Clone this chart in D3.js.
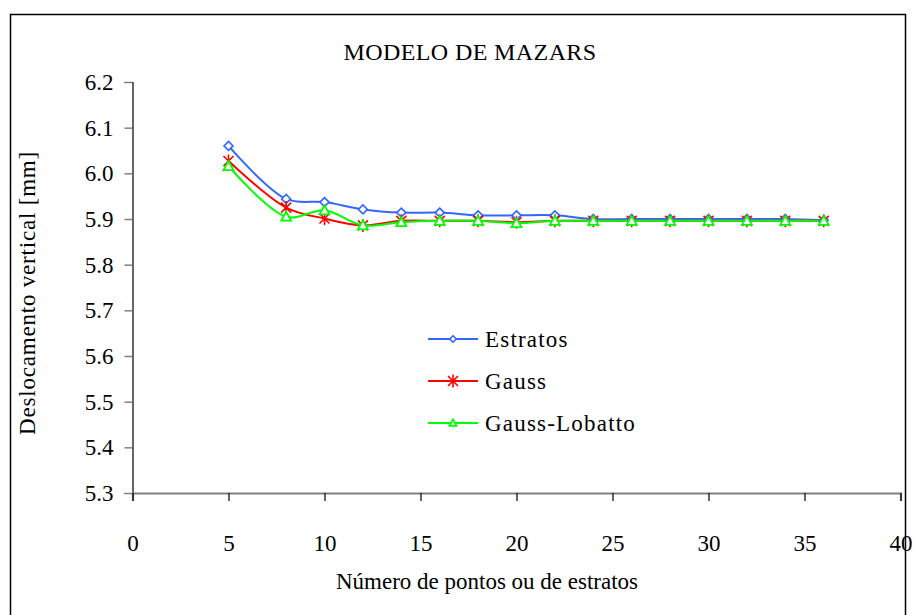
<!DOCTYPE html>
<html>
<head>
<meta charset="utf-8">
<script src="https://cdn.jsdelivr.net/npm/d3@7"></script>
<style>
  html, body { margin: 0; padding: 0; background: #fff; }
  svg { display: block; }
  svg text { font-family: "Liberation Serif", "Times New Roman", serif; }
</style>
</head>
<body>
<svg id="chart" width="915" height="615"></svg>
<script>
// Number of integration points / layers
const pontos = [5, 8, 10, 12, 14, 16, 18, 20, 22, 24, 26, 28, 30, 32, 34, 36];

// Vertical displacement [mm] for each integration scheme
const estratos = [6.060, 5.944, 5.937, 5.921, 5.914, 5.914, 5.908, 5.908, 5.908, 5.900, 5.900, 5.900, 5.900, 5.900, 5.900, 5.897];
const gauss    = [6.027, 5.925, 5.901, 5.886, 5.896, 5.896, 5.896, 5.893, 5.896, 5.896, 5.896, 5.896, 5.896, 5.896, 5.896, 5.896];
const lobatto  = [6.016, 5.905, 5.919, 5.886, 5.893, 5.896, 5.896, 5.891, 5.896, 5.896, 5.896, 5.896, 5.896, 5.896, 5.896, 5.896];

const xTicks = [0, 5, 10, 15, 20, 25, 30, 35, 40];
const yTicks = [5.3, 5.4, 5.5, 5.6, 5.7, 5.8, 5.9, 6.0, 6.1, 6.2];

const seriesNames = ["Estratos", "Gauss", "Gauss-Lobatto"];

const svg = d3.select("#chart");

const x = d3.scaleLinear().domain([0, 40]).range([132.5, 900.5]);
const y = d3.scaleLinear().domain([5.3, 6.2]).range([493, 82]);

// outer frame (bottom edge runs below the visible area)
svg.append("rect")
  .attr("x", 10.5).attr("y", 14.5)
  .attr("width", 895).attr("height", 620)
  .attr("fill", "#fff").attr("stroke", "#000").attr("stroke-width", 1.5);

// title
svg.append("text")
  .attr("x", 470).attr("y", 60)
  .attr("text-anchor", "middle")
  .attr("font-size", 24).attr("letter-spacing", 0.4)
  .attr("fill", "#000")
  .text("MODELO DE MAZARS");

// y axis
const yAxis = d3.axisLeft(y).tickValues(yTicks).tickFormat(d3.format(".1f")).tickSize(8).tickPadding(11);
const gy = svg.append("g").attr("transform", `translate(${x(0)},0)`).call(yAxis);
gy.attr("font-family", null);
gy.select(".domain").attr("stroke", "#000").attr("stroke-width", 1.2);
gy.selectAll(".tick line").attr("stroke", "#808080").attr("stroke-width", 1.5);
gy.selectAll(".tick text").attr("font-size", 23).attr("fill", "#000");

// x axis
const xAxis = d3.axisBottom(x).tickValues(xTicks).tickFormat(d3.format("d")).tickSize(8).tickPadding(34);
const gx = svg.append("g").attr("transform", `translate(0,${y(5.3)})`).call(xAxis);
gx.attr("font-family", null);
gx.select(".domain").attr("stroke", "#808080").attr("stroke-width", 2.2);
gx.selectAll(".tick line").attr("stroke", "#000").attr("stroke-width", 1.2);
gx.selectAll(".tick text").attr("font-size", 23).attr("fill", "#000");

// axis titles
svg.append("text")
  .attr("x", 487).attr("y", 589)
  .attr("text-anchor", "middle").attr("font-size", 23)
  .text("Número de pontos ou de estratos");

svg.append("text")
  .attr("transform", "translate(35,293) rotate(-90)")
  .attr("text-anchor", "middle").attr("font-size", 23).attr("letter-spacing", 0.8)
  .text("Deslocamento vertical [mm]");

// series
const series = [
  { name: seriesNames[0], values: estratos, color: "#3366FF", marker: "diamond" },
  { name: seriesNames[1], values: gauss,    color: "#FF0000", marker: "star" },
  { name: seriesNames[2], values: lobatto,  color: "#00FF00", marker: "triangle" }
];

const line = d3.line()
  .x(d => x(d[0])).y(d => y(d[1]))
  .curve(d3.curveCatmullRom.alpha(0.5));

// k scales the open markers (legend keys are drawn a little smaller)
function drawMarker(g, type, color, k = 1) {
  if (type === "diamond") {
    const r = 4.5 * k;
    g.append("path").attr("d", `M0,${-r}L${r},0L0,${r}L${-r},0Z`)
      .attr("fill", "#fff").attr("stroke", color).attr("stroke-width", 1.6);
  } else if (type === "star") {
    g.append("path").attr("d", "M-5,-5L5,5M-5,5L5,-5M0,-6.5L0,6.5")
      .attr("fill", "none").attr("stroke", color).attr("stroke-width", 1.6);
  } else {
    g.append("path").attr("d", `M0,${-5 * k}L${5 * k},${4 * k}L${-5 * k},${4 * k}Z`)
      .attr("fill", "#fff").attr("stroke", color).attr("stroke-width", 1.8);
  }
}

series.forEach(s => {
  const pts = pontos.map((p, i) => [p, s.values[i]]);
  svg.append("path").datum(pts)
    .attr("d", line).attr("fill", "none")
    .attr("stroke", s.color).attr("stroke-width", 2);
});

series.forEach(s => {
  pontos.forEach((p, i) => {
    const g = svg.append("g").attr("transform", `translate(${x(p)},${y(s.values[i])})`);
    drawMarker(g, s.marker, s.color);
  });
});

// legend
const legend = svg.append("g");
const rowY = [339, 381, 423];
series.forEach((s, i) => {
  const g = legend.append("g").attr("transform", `translate(0,${rowY[i]})`);
  g.append("line").attr("x1", 428).attr("x2", 478).attr("y1", 0).attr("y2", 0)
    .attr("stroke", s.color).attr("stroke-width", 2);
  const m = g.append("g").attr("transform", "translate(453,0)");
  drawMarker(m, s.marker, s.color, 0.72);
  g.append("text").attr("x", 485).attr("y", 8)
    .attr("font-size", 23).attr("letter-spacing", 1.2)
    .text(s.name);
});
</script>
</body>
</html>
